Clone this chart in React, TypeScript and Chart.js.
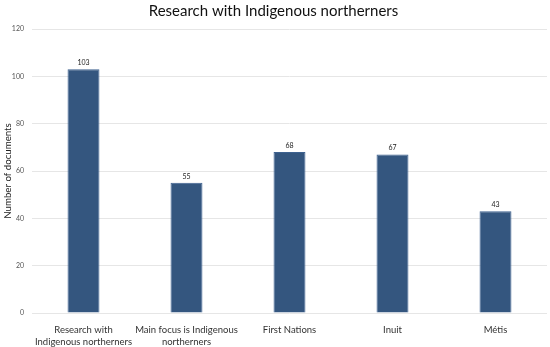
import React, { useEffect, useRef } from "react";
import { Chart, registerables } from "chart.js";

Chart.register(...registerables);

const categories: (string | string[])[] = [
  ["Research with", "Indigenous northerners"],
  ["Main focus is Indigenous", "northerners"],
  "First Nations",
  "Inuit",
  "Métis",
];
const documents: number[] = [103, 55, 68, 67, 43];
const titleText = "Research with Indigenous northerners";
const yTitle = "Number of documents";

const FONT = "Lato, 'Open Sans', 'DejaVu Sans', sans-serif";

const valueLabels = {
  id: "valueLabels",
  afterDatasetsDraw(chart: any) {
    const ctx = chart.ctx;
    const meta = chart.getDatasetMeta(0);
    ctx.save();
    ctx.font = `7px ${FONT}`;
    ctx.fillStyle = "#222";
    ctx.textAlign = "center";
    ctx.textBaseline = "bottom";
    meta.data.forEach((el: any, i: number) => {
      ctx.fillText(String(chart.data.datasets[0].data[i]), el.x, el.y - 3);
    });
    ctx.restore();
  },
};

export default function App() {
  const ref = useRef<HTMLCanvasElement | null>(null);
  useEffect(() => {
    if (!ref.current) return;
    const chart = new Chart(ref.current, {
      type: "bar",
      data: {
        labels: categories,
        datasets: [
          {
            data: documents,
            backgroundColor: "#34567f",
            borderColor: "#3e6290",
            borderWidth: 1,
            categoryPercentage: 1,
            barPercentage: 0.31,
          },
        ],
      },
      options: {
        animation: false,
        responsive: false,
        maintainAspectRatio: false,
        layout: { padding: { left: 0, right: 3, top: 0, bottom: 0 } },
        plugins: {
          legend: { display: false },
          tooltip: { enabled: false },
          title: {
            display: true,
            text: titleText,
            color: "#111",
            font: { family: FONT, size: 15, weight: "normal" },
            padding: { top: 2, bottom: 9 },
          },
        },
        scales: {
          x: {
            grid: { display: false },
            border: { display: false },
            ticks: {
              color: "#333",
              font: { family: FONT, size: 9.5, lineHeight: 1.25 },
              maxRotation: 0,
              autoSkip: false,
              padding: 3,
            },
            afterFit: (s: any) => {
              s.height = 34;
            },
          },
          y: {
            min: 0,
            max: 120,
            grid: { color: "#e6e6e6", drawTicks: false },
            border: { display: false },
            ticks: {
              stepSize: 20,
              color: "#555",
              font: { family: FONT, size: 7 },
              padding: 8,
            },
            title: {
              display: true,
              text: yTitle,
              color: "#222",
              font: { family: FONT, size: 9.7 },
              padding: { top: 2, bottom: 2 },
            },
            afterFit: (s: any) => {
              s.width = 32;
            },
          },
        },
      },
      plugins: [valueLabels],
    });
    return () => chart.destroy();
  }, []);
  return (
    <div style={{ position: "absolute", left: 0, top: 0, width: 550, height: 347 }}>
      <canvas ref={ref} width={550} height={347} />
    </div>
  );
}
